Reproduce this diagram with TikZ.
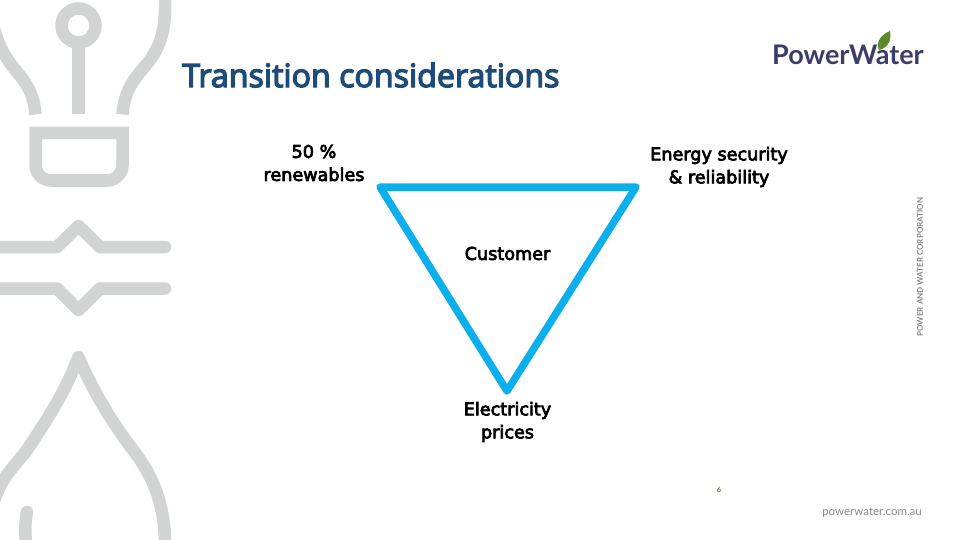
\documentclass[tikz,border=0pt]{standalone}
\usepackage{fontspec}
\setmainfont{Noto Sans}
\newfontfamily\titlefont[FakeBold=4]{Open Sans}
\newfontfamily\logofont{Lato}
\newfontfamily\labelfont[FakeBold=4]{DejaVu Sans}
\definecolor{ghost}{HTML}{D2D3D3}
\definecolor{tri}{HTML}{0AAFEC}
\definecolor{titleblue}{HTML}{1F4B78}
\definecolor{logoblue}{HTML}{3A3D68}
\definecolor{leaf}{HTML}{5E8A2E}
\definecolor{footgrey}{HTML}{85888C}
\tikzset{
  ghostline/.style={draw=ghost,line width=12.5pt,line join=round},
  lbl/.style={font=\labelfont\fontsize{17.6}{23}\selectfont,align=center,text=black,inner sep=0pt},
  triline/.style={draw=tri,line width=7.5pt,line join=round,line cap=round}
}
\begin{document}
\begin{tikzpicture}[x=1pt,y=-1pt]
\useasboundingbox (0,0) rectangle (960,540);
\clip (0,0) rectangle (960,540);
% bulb
\draw[ghostline] (78.5,25.5) circle[radius=17];
\draw[ghostline] (78.5,42) -- (78.5,114.5);
\draw[ghostline] (35.5,114.5) .. controls (33,85) and (20,78) .. (8,60) .. controls (0,48) and (-6,35) .. (-8,15);
\draw[ghostline] (122.5,114.5) .. controls (125,85) and (138,76) .. (150,60) .. controls (160,46) and (166,30) .. (165,0);
\draw[ghostline,line join=miter] (35.5,133) -- (122.5,133) -- (122.5,165) .. controls (122.5,174) and (115,180.5) .. (107,180.5) -- (51,180.5) .. controls (43,180.5) and (35.5,174) .. (35.5,165) -- cycle;
% lines
\draw[ghostline,line cap=round] (-10,247) -- (57,247) -- (78.5,226) -- (100,247) -- (165,247);
\draw[ghostline,line cap=round] (-10,288.5) -- (57,288.5) -- (78.5,310) -- (100,288.5) -- (165,288.5);
% drop
\draw[ghostline,line cap=round] (-10,520) .. controls (-4,480) and (12,470) .. (27,450) .. controls (50,415) and (65,392) .. (78.5,357) .. controls (90,385) and (110,420) .. (133,450) .. controls (150,472) and (165,500) .. (165,545);
\draw[ghostline,line cap=round] (27,512) .. controls (25,522) and (25,532) .. (26,545);
% title
\node[anchor=west,inner sep=0pt,text=titleblue,font=\titlefont\fontsize{32.2}{38}\selectfont] (title) at (182,75) {Transition considerations};
% triangle
\coordinate (tl) at (380,187);
\coordinate (tr) at (636,187);
\coordinate (tb) at (507,391);
\draw[triline] (tl) -- (tr) -- (tb) -- cycle;
\node[lbl] (renew) at (314,163) {50 \%\\renewables};
\node[lbl] (secur) at (719,167) {Energy security\\\& reliability};
\node[lbl] (cust) at (507.5,253.5) {Customer};
\node[lbl] (price) at (507.5,422) {Electricity\\prices};
% logo
\node[anchor=west,inner sep=0pt,text=logoblue,font=\logofont\bfseries\fontsize{27}{34}\selectfont] (logo) at (772,55) {PowerWater};
\fill[leaf] (879,50) .. controls (875,42) and (882,34) .. (890,31) .. controls (892,40) and (888,48) .. (879,50) -- cycle;
% side and footer
\node[rotate=90,inner sep=0pt,text=footgrey,font=\logofont\bfseries\fontsize{8}{10}\selectfont] (corp) at (920,267) {POWER AND WATER CORPORATION};
\node[anchor=east,inner sep=0pt,text=footgrey,font=\logofont\fontsize{11.5}{14}\selectfont] (web) at (922,513) {powerwater.com.au};
\node[inner sep=0pt,text=leaf,font=\logofont\bfseries\fontsize{7.5}{8}\selectfont] (num) at (719,490) {6};
\end{tikzpicture}
\end{document}
